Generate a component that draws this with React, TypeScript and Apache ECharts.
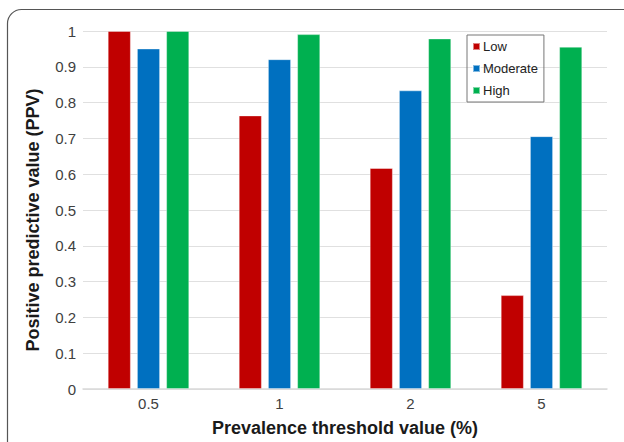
import React, { useEffect, useRef } from "react";
import * as echarts from "echarts";

const categories = ["0.5", "1", "2", "5"];
const lowValues = [1.0, 0.764, 0.617, 0.262];
const moderateValues = [0.951, 0.921, 0.834, 0.706];
const highValues = [1.0, 0.991, 0.979, 0.956];
const seriesNames = ["Low", "Moderate", "High"];
const seriesColors = ["#C00000", "#0070C0", "#00B050"];

export default function App() {
  const ref = useRef<HTMLDivElement>(null);
  useEffect(() => {
    if (!ref.current) return;
    const chart = echarts.init(ref.current, undefined, { renderer: "svg" });
    const font = "Liberation Sans, Arial, sans-serif";
    const data = [lowValues, moderateValues, highValues];
    chart.setOption({
      animation: false,
      backgroundColor: "#ffffff",
      textStyle: { fontFamily: font },
      graphic: [
        {
          type: "rect",
          shape: { x: 7.5, y: 9.5, width: 700, height: 600, r: 14 },
          style: { fill: "none", stroke: "#555555", lineWidth: 1.2 },
          silent: true,
          z: -1,
        },
      ],
      grid: { left: 83, right: 17, top: 31, bottom: 44 },
      legend: {
        orient: "vertical",
        left: 467,
        top: 35,
        data: seriesNames,
        icon: "rect",
        itemWidth: 7,
        itemHeight: 7,
        itemGap: 9,
        padding: [5, 6, 5, 5],
        borderColor: "#777777",
        borderWidth: 1,
        textStyle: { fontFamily: font, fontSize: 13, color: "#222222", padding: [0, 0, 0, -2] },
      },
      xAxis: {
        type: "category",
        data: categories,
        name: "Prevalence threshold value (%)",
        nameLocation: "middle",
        nameGap: 30,
        nameTextStyle: { fontFamily: font, fontSize: 18, fontWeight: "bold", color: "#1a1a1a" },
        axisLine: { show: true, lineStyle: { color: "#d9d9d9", width: 1.5 } },
        axisTick: { show: false },
        axisLabel: { fontFamily: font, fontSize: 15, color: "#404040", margin: 7 },
      },
      yAxis: {
        type: "value",
        min: 0,
        max: 1,
        interval: 0.1,
        name: "Positive predictive value (PPV)",
        nameLocation: "middle",
        nameGap: 41,
        nameTextStyle: { fontFamily: font, fontSize: 18, fontWeight: "bold", color: "#1a1a1a", padding: [0, 20, 0, 0] },
        axisLine: { show: false },
        axisTick: { show: false },
        splitLine: { lineStyle: { color: "#e0e0e0", width: 1.2 } },
        axisLabel: {
          fontFamily: font,
          fontSize: 15,
          color: "#404040",
          margin: 7,
          formatter: (v: number) => String(Math.round(v * 10) / 10),
        },
      },
      series: seriesNames.map((name, i) => ({
        name,
        type: "bar",
        data: data[i],
        barWidth: 23,
        barGap: "27%",
        itemStyle: { color: seriesColors[i], borderColor: "rgba(255,255,255,0.5)", borderWidth: 0.8 },
      })),
    });
    return () => chart.dispose();
  }, []);
  return (
    <div
      ref={ref}
      style={{ position: "fixed", left: 0, top: 0, width: 624, height: 442 }}
    />
  );
}
